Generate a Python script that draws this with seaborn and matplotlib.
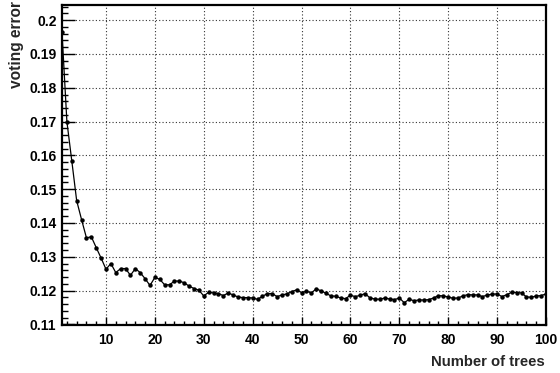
import matplotlib
matplotlib.use("Agg")
import matplotlib.pyplot as plt
from matplotlib.ticker import MultipleLocator, FixedLocator
import seaborn as sns
import pandas as pd
import numpy as np

n_trees = list(range(1, 101))
voting_error = [
    0.1964, 0.1700, 0.1584, 0.1466, 0.1410, 0.1356, 0.1359, 0.1327, 0.1296, 0.1263,
    0.1280, 0.1253, 0.1265, 0.1265, 0.1245, 0.1265, 0.1253, 0.1235, 0.1215, 0.1239,
    0.1233, 0.1217, 0.1217, 0.1228, 0.1228, 0.1223, 0.1213, 0.1206, 0.1201, 0.1184,
    0.1195, 0.1193, 0.1191, 0.1185, 0.1193, 0.1187, 0.1181, 0.1179, 0.1179, 0.1178,
    0.1174, 0.1183, 0.1191, 0.1191, 0.1182, 0.1187, 0.1190, 0.1197, 0.1202, 0.1194,
    0.1198, 0.1193, 0.1205, 0.1199, 0.1192, 0.1184, 0.1183, 0.1178, 0.1176, 0.1186,
    0.1182, 0.1186, 0.1191, 0.1178, 0.1175, 0.1174, 0.1178, 0.1175, 0.1173, 0.1178,
    0.1164, 0.1174, 0.1170, 0.1172, 0.1172, 0.1173, 0.1178, 0.1185, 0.1184, 0.1181,
    0.1177, 0.1178, 0.1184, 0.1188, 0.1187, 0.1187, 0.1182, 0.1187, 0.1189, 0.1190,
    0.1182, 0.1188, 0.1195, 0.1194, 0.1193, 0.1181, 0.1180, 0.1184, 0.1185, 0.1190,
]
x_ticks = [10, 20, 30, 40, 50, 60, 70, 80, 90, 100]
y_ticks = [0.11, 0.12, 0.13, 0.14, 0.15, 0.16, 0.17, 0.18, 0.19, 0.2]
y_tick_labels = ["0.11", "0.12", "0.13", "0.14", "0.15", "0.16", "0.17", "0.18", "0.19", "0.2"]

sns.set_style("white")
plt.rcParams["font.family"] = ["Liberation Sans", "DejaVu Sans"]

df = pd.DataFrame({"trees": n_trees, "error": voting_error})

fig = plt.figure(figsize=(5.6, 3.73), dpi=100)
ax = fig.add_axes([62 / 560, 1 - 325 / 373, (546 - 62) / 560, (325 - 5) / 373])

sns.lineplot(data=df, x="trees", y="error", ax=ax, color="black", linewidth=0.9,
             marker="o", markersize=3.2, markeredgewidth=0, markerfacecolor="black", zorder=3)

ax.set_xlim(1, 100)
ax.set_ylim(0.1098, 0.2045)

ax.xaxis.set_major_locator(FixedLocator(x_ticks))
ax.xaxis.set_minor_locator(MultipleLocator(2))
ax.yaxis.set_major_locator(FixedLocator(y_ticks))
ax.yaxis.set_minor_locator(MultipleLocator(0.002))
ax.set_yticklabels(y_tick_labels)
ax.set_xticklabels([str(t) for t in x_ticks])

ax.tick_params(axis="both", which="both", direction="in", top=False, right=False,
               left=True, bottom=True, labelsize=10, colors="black")
ax.tick_params(axis="x", which="major", length=6, width=1, pad=6)
ax.tick_params(axis="x", which="minor", length=3, width=1)
ax.tick_params(axis="y", which="major", length=9.5, width=1, pad=4)
ax.tick_params(axis="y", which="minor", length=4.5, width=1)
for lbl in ax.get_xticklabels() + ax.get_yticklabels():
    lbl.set_fontweight("bold")

ax.grid(True, which="major", color="#333333", linestyle=(0, (1, 2)), linewidth=0.8)

for s in ax.spines.values():
    s.set_visible(True)
    s.set_color("black")
    s.set_linewidth(1.6)

ax.set_xlabel("")
ax.set_ylabel("")
fig.text(545 / 560, 1 - 362 / 373, "Number of trees", ha="right", va="center",
         fontsize=10.7, fontweight="bold")
fig.text(17 / 560, 1 - 1 / 373, "voting error", ha="center", va="top", rotation=90,
         fontsize=11.2, fontweight="bold")

fig.savefig("out.png", dpi=100, facecolor="white")
